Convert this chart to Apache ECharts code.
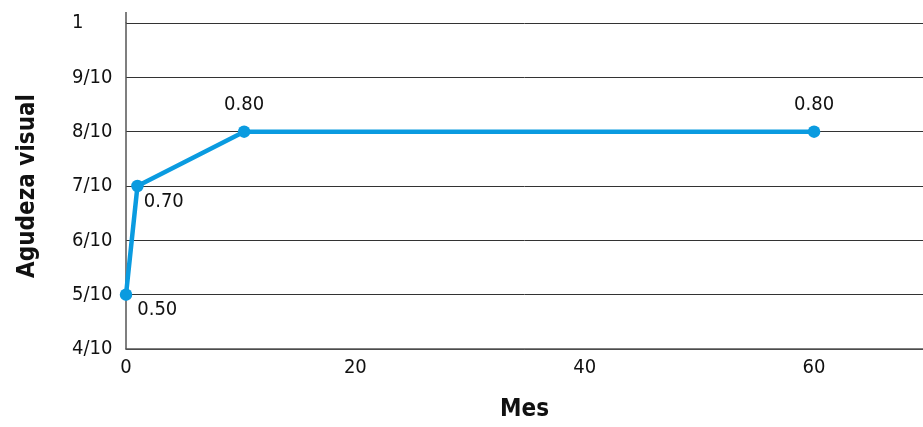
<!DOCTYPE html>
<html>
<head>
<meta charset="utf-8">
<script src="https://cdn.jsdelivr.net/npm/echarts@6/dist/echarts.min.js"></script>
<style>
  html, body { margin: 0; padding: 0; background: #fff; }
  #chart { width: 923px; height: 427px; }
</style>
</head>
<body>
<div id="chart"></div>
<script>
// Visual acuity over the months of follow-up
const months = [0, 1, 10.3, 60];
const acuity = [0.5, 0.7, 0.8, 0.8];
const pointLabels = ['0.50', '0.70', '0.80', '0.80'];
const yTickLabels = { '0.4': '4/10', '0.5': '5/10', '0.6': '6/10', '0.7': '7/10', '0.8': '8/10', '0.9': '9/10', '1': '1' };

const FONT = '"Liberation Sans Narrow", "DejaVu Sans Condensed", "Arial Narrow", sans-serif';
const BLUE = '#0a9be0';

const chart = echarts.init(document.getElementById('chart'), null, { renderer: 'canvas' });

// Labels sit above the plateau points and to the lower right of the early ones
const labelOffsets = [[3, 15], [-2, 16]];
const seriesData = months.map((m, i) => {
  const below = acuity[i] < 0.8;
  return {
    value: [m, acuity[i]],
    label: below
      ? { position: 'right', distance: 2, offset: labelOffsets[i] }
      : { position: 'top', distance: 11 }
  };
});

chart.setOption({
  animation: false,
  grid: { left: 126, top: 23, bottom: 77, right: 0, containLabel: false },
  xAxis: {
    type: 'value',
    min: 0,
    max: 69.5,
    interval: 20,
    name: 'Mes',
    nameLocation: 'middle',
    nameGap: 49,
    nameTextStyle: { fontFamily: FONT, fontSize: 24, fontWeight: 'bold', color: '#111' },
    axisLine: { show: true, lineStyle: { color: '#555', width: 1.5 } },
    axisTick: { show: false },
    splitLine: { show: false },
    axisLabel: { fontFamily: FONT, fontSize: 20, color: '#111', margin: 9, showMaxLabel: false }
  },
  yAxis: {
    type: 'value',
    min: 0.4,
    max: 1,
    interval: 0.1,
    name: 'Agudeza visual',
    nameLocation: 'middle',
    nameGap: 86,
    nameRotate: 90,
    nameTextStyle: { fontFamily: FONT, fontSize: 24, fontWeight: 'bold', color: '#111' },
    axisLine: { show: true, lineStyle: { color: '#555', width: 1.5 } },
    axisTick: { show: false },
    splitLine: { show: true, lineStyle: { color: '#333', width: 1 } },
    axisLabel: {
      fontFamily: FONT, fontSize: 20, color: '#111', margin: 54, align: 'left',
      formatter: v => yTickLabels[String(Math.round(v * 10) / 10)] || ''
    }
  },
  series: [{
    type: 'line',
    data: seriesData,
    symbol: 'circle',
    symbolSize: 12.5,
    lineStyle: { color: BLUE, width: 4.5 },
    itemStyle: { color: BLUE },
    label: {
      show: true,
      fontFamily: FONT,
      fontSize: 20,
      color: '#111',
      formatter: p => pointLabels[p.dataIndex]
    },
    z: 5
  }]
});

// Y axis line continues slightly above the top gridline
const axisTop = chart.convertToPixel({ gridIndex: 0 }, [0, 1]);
chart.setOption({
  graphic: [{
    type: 'line',
    shape: { x1: axisTop[0], y1: axisTop[1], x2: axisTop[0], y2: axisTop[1] - 11 },
    style: { stroke: '#555', lineWidth: 1.5 },
    silent: true
  }]
});
</script>
</body>
</html>
